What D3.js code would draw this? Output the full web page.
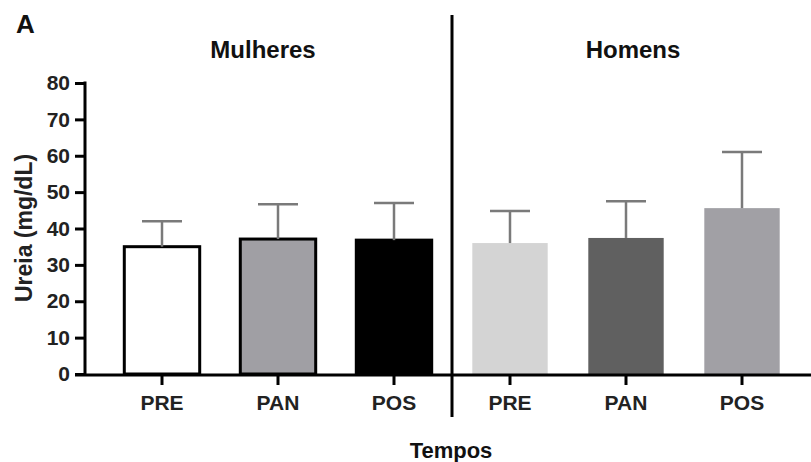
<!DOCTYPE html>
<html><head><meta charset="utf-8">
<script src="https://cdn.jsdelivr.net/npm/d3@7"></script>
<style>body{margin:0;background:#fff}svg{display:block;font-family:"Liberation Sans",Arial,sans-serif;font-weight:bold}</style>
</head><body><svg id="c" width="811" height="462"></svg>
<script>
const categories = ["PRE","PAN","POS","PRE","PAN","POS"];
const groups = ["Mulheres","Mulheres","Mulheres","Homens","Homens","Homens"];
const means = [35.0, 37.1, 36.8, 36.0, 37.4, 45.6];
const sds = [7.0, 9.6, 10.2, 8.8, 10.1, 15.4];
const fills = ["#ffffff","#a09fa4","#000000","#d4d4d4","#606060","#a1a0a5"];
const outlined = [true,true,true,false,false,false];
const yTicks = [0,10,20,30,40,50,60,70,80];

const svg = d3.select("#c");
const y = d3.scaleLinear().domain([0,80]).range([374,83]);
const x = d3.scaleBand().domain(d3.range(6)).range([104,800]).paddingInner(0.35).paddingOuter(0.175);

// bars
svg.selectAll("rect.bar").data(means).join("rect")
  .attr("x",(d,i)=>x(i)).attr("width",x.bandwidth())
  .attr("y",d=>y(d)).attr("height",d=>y(0)-y(d))
  .attr("fill",(d,i)=>fills[i])
  .attr("stroke",(d,i)=>outlined[i]?"#000":"none")
  .attr("stroke-width",3);

// error bars
const eb = svg.append("g").attr("stroke","#7a7a7a").attr("stroke-width",2.5);
means.forEach((m,i)=>{
  const cx = x(i)+x.bandwidth()/2;
  eb.append("line").attr("x1",cx).attr("x2",cx).attr("y1",y(m)).attr("y2",y(m+sds[i]));
  eb.append("line").attr("x1",cx-20).attr("x2",cx+20).attr("y1",y(m+sds[i])).attr("y2",y(m+sds[i]));
});

// y axis
const ya = svg.append("g").attr("transform","translate(85,0)")
  .call(d3.axisLeft(y).tickValues(yTicks).tickSize(10).tickPadding(5));
ya.select(".domain").remove();
ya.selectAll(".tick line").attr("stroke","#000").attr("stroke-width",3);
ya.selectAll(".tick text").attr("font-size",21).attr("font-weight","bold").attr("fill","#222").attr("font-family","Liberation Sans, Arial");
svg.append("line").attr("x1",85).attr("x2",85).attr("y1",y(80)-1.5).attr("y2",y(0)+1.5).attr("stroke","#000").attr("stroke-width",3);

// x axis
svg.append("line").attr("x1",75).attr("x2",811).attr("y1",y(0)+1).attr("y2",y(0)+1).attr("stroke","#000").attr("stroke-width",3);
const xa = svg.append("g").attr("transform",`translate(0,${y(0)+2})`)
  .call(d3.axisBottom(x).tickSize(9).tickPadding(10).tickFormat(i=>categories[i]));
xa.select(".domain").remove();
xa.selectAll(".tick line").attr("stroke","#000").attr("stroke-width",3);
xa.selectAll(".tick text").attr("font-size",21).attr("font-weight","bold").attr("fill","#222").attr("font-family","Liberation Sans, Arial");

// divider
const divX = (x(2)+x.bandwidth()+x(3))/2;
svg.append("line").attr("x1",divX).attr("x2",divX).attr("y1",15).attr("y2",417).attr("stroke","#000").attr("stroke-width",3);

// group titles
svg.append("text").attr("x",263).attr("y",58).attr("text-anchor","middle").attr("font-size",24).attr("fill","#111").text(groups[0]);
svg.append("text").attr("x",633).attr("y",58).attr("text-anchor","middle").attr("font-size",24).attr("fill","#111").text(groups[3]);

// axis titles
svg.append("text").attr("transform","translate(32,228) rotate(-90)").attr("text-anchor","middle").attr("font-size",23).attr("fill","#222").text("Ureia (mg/dL)");
svg.append("text").attr("x",451).attr("y",458).attr("text-anchor","middle").attr("font-size",22).attr("fill","#111").text("Tempos");
svg.append("text").attr("x",16).attr("y",33).attr("font-size",26).attr("fill","#111").text("A");
</script></body></html>
